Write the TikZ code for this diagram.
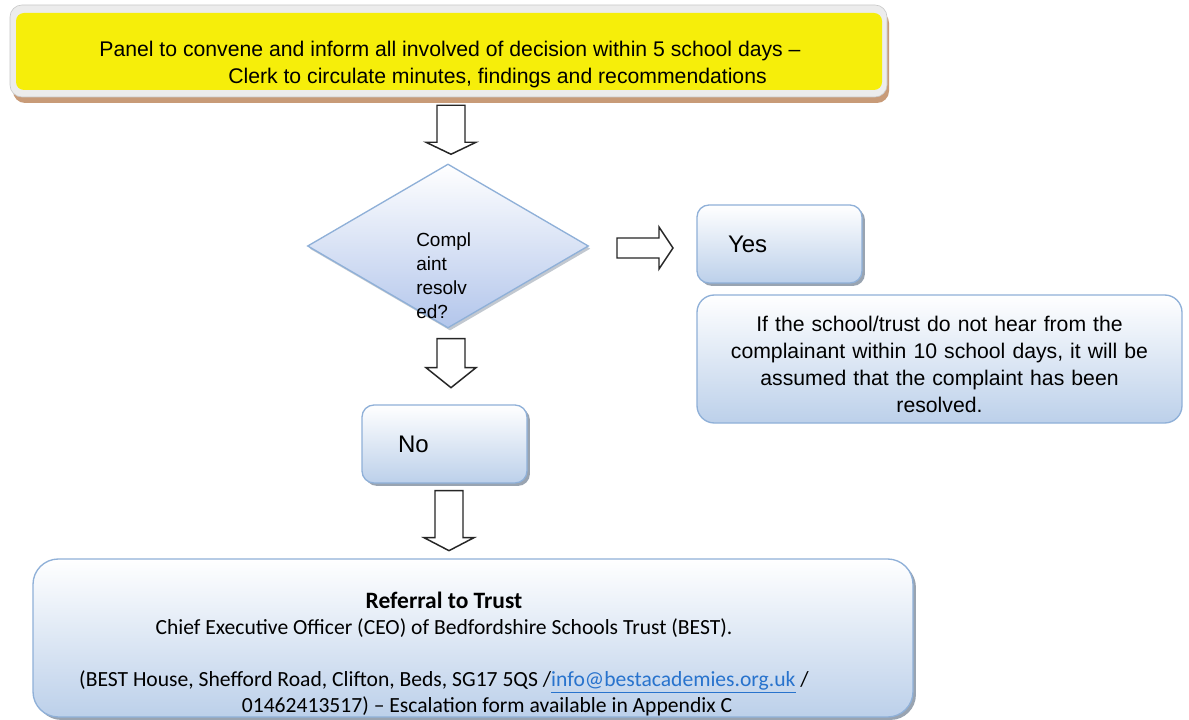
\documentclass[tikz,border=0pt]{standalone}
\usepackage{fontspec}
\setmainfont{Liberation Sans}
\newfontfamily\calfont{Carlito}
\usetikzlibrary{shapes.geometric,shadows,calc}
\definecolor{boxborder}{RGB}{143,176,216}
\definecolor{boxbottom}{RGB}{188,208,234}
\definecolor{shadowgray}{RGB}{120,134,152}
\definecolor{panelyellow}{RGB}{246,238,10}
\definecolor{panelgray}{RGB}{236,236,236}
\definecolor{paneltan}{RGB}{200,155,120}
\definecolor{linkblue}{RGB}{40,115,205}
\tikzset{
  bluebox/.style={draw=boxborder, line width=1pt, top color=white, bottom color=boxbottom, rounded corners=#1, inner sep=0pt},
  bluebox/.default=9pt,
  boxshadow/.style={drop shadow={shadow xshift=2.2pt, shadow yshift=-2.2pt, fill=shadowgray, opacity=0.75}},
  blockarrow/.style={draw=black!85, fill=white, line width=1.1pt, line join=miter},
  pics/downblk/.style 2 args={code={
    \draw[blockarrow] (-14,0) -- (14,0) -- (14,#2) -- (25,#2) -- (0,#1) -- (-25,#2) -- (-14,#2) -- cycle;
  }},
}
\begin{document}
\begin{tikzpicture}[x=0.75pt,y=-0.75pt]
\useasboundingbox[fill=white] (0,0) rectangle (1189,720);

% top panel
\fill[paneltan, rounded corners=9pt] (13,11) rectangle (889,103);
\draw[panelgray!85!black, fill=panelgray, rounded corners=9pt, line width=0.5pt] (10,5) rectangle (887,97);
\node[fill=panelyellow, rounded corners=6pt, minimum width=649.5pt, minimum height=57.75pt, inner sep=0pt] (panel) at (449,51.5) {};
\node[font=\fontsize{15.9}{20.25}\selectfont, align=center, inner sep=0pt] (paneltext) at ($(panel.center)+(1,13)$)
  {Panel to convene and inform all involved of decision within 5 school days \textendash\\\hspace*{71.25pt}Clerk to circulate minutes, findings and recommendations};

% decision diamond
\node[diamond, draw=boxborder, line width=1pt, top color=white, bottom color=boxbottom!95!blue,
      drop shadow={shadow xshift=1.5pt, shadow yshift=-2pt, fill=shadowgray, opacity=0.45},
      minimum width=210.75pt, minimum height=123pt, inner sep=0pt] (dec) at (448,246) {};
\node[font=\fontsize{14.25}{18}\selectfont, align=left, anchor=west, inner sep=0pt] (dectext) at (416,276)
  {Compl\\aint\\resolv\\ed?};

% yes / no
\node[bluebox, boxshadow, minimum width=123.75pt, minimum height=58.5pt, text width=77.25pt, inner xsep=23.25pt,
      align=left, font=\fontsize{18}{20}\selectfont] (yes) at (779.5,244) {Yes};
\node[bluebox, boxshadow, minimum width=123.75pt, minimum height=58.5pt, text width=69.75pt, inner xsep=27pt,
      align=left, font=\fontsize{18}{20}\selectfont] (no) at (444.5,444) {No};

% info box
\node[bluebox=13pt, minimum width=363.75pt, minimum height=96pt] (info) at (939.5,359) {};
\node[text width=340pt, align=center, inner sep=0pt, font=\fontsize{15.9}{20.25}\selectfont] (infotext)
  at ($(info.center)+(0,5)$)
  {If the school/trust do not hear from the\\complainant within 10 school days, it will be\\assumed that the complaint has been\\resolved.};

% referral box
\node[bluebox=19pt, boxshadow, minimum width=660pt, minimum height=118.5pt] (ref) at (473,638) {};
\node[font=\calfont\fontsize{16.2}{19.5}\selectfont, align=center, inner sep=0pt] (reftext) at ($(ref.center)+(-29,16)$)
  {{\bfseries\fontsize{17.6}{19.5}\selectfont Referral to Trust}\\
   Chief Executive Officer (CEO) of Bedfordshire Schools Trust (BEST).\\[19.5pt]
   (BEST House, Shefford Road, Clifton, Beds, SG17 5QS /\textcolor{linkblue}{\underline{info@bestacademies.org.uk}} /\\
   \hspace*{64.5pt}01462413517) \textendash{} Escalation form available in Appendix C};

% block arrows
\coordinate (a1) at ($(panel.south)+(2,15)$);
\coordinate (a2) at ($(dec.south)+(3,10)$);
\coordinate (a3) at ($(no.south)+(4.5,7)$);
\pic at (a1) {downblk={49}{37}};
\pic at (a2) {downblk={49}{29}};
\pic at (a3) {downblk={60}{47}};
\draw[blockarrow] (617,238) -- (659,238) -- (659,227) -- (673,248) -- (659,269) -- (659,258) -- (617,258) -- cycle;
\end{tikzpicture}
\end{document}
